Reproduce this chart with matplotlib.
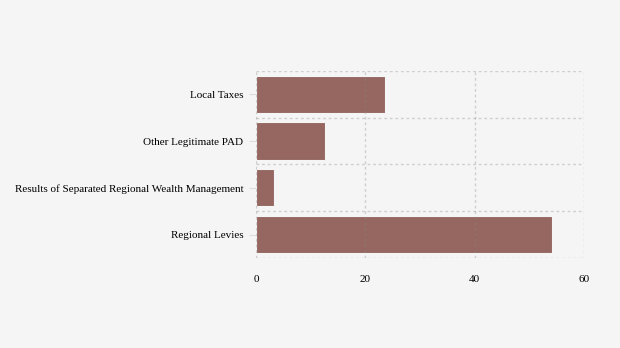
import matplotlib.pyplot as plt
import numpy as np

categories = ['Regional Levies', 'Results of Separated Regional Wealth Management',
              'Other Legitimate PAD', 'Local Taxes']
values = [54.1, 3.3, 12.6, 23.6]
xticks = [0, 20, 40, 60]

plt.rcParams['font.family'] = ['Liberation Serif', 'DejaVu Serif']

bg = '#f5f5f5'
fig = plt.figure(figsize=(6.2, 3.48), dpi=100, facecolor=bg)
ax = fig.add_axes([0.413, 0.259, 0.529, 0.537], facecolor=bg)

y = np.arange(len(categories))
ax.barh(y, values, height=0.8, color='#956760', edgecolor=bg, linewidth=0.8, zorder=1)

ax.set_xlim(0, 60)
ax.set_ylim(-0.5, len(categories) - 0.5)
ax.set_xticks(xticks)
ax.set_xticklabels([str(t) for t in xticks])
ax.set_yticks(y)
ax.set_yticklabels(categories)
ax.set_yticks(np.arange(-0.5, len(categories), 1), minor=True)

# dashed grid on top of the bars
grid_kw = dict(color='#888888', linestyle=(0, (2, 2)), linewidth=1, alpha=0.35, zorder=3)
ax.grid(axis='x', which='major', **grid_kw)
ax.grid(axis='y', which='minor', **grid_kw)
ax.set_axisbelow(False)

for s in ax.spines.values():
    s.set_visible(False)

ax.tick_params(axis='y', which='major', length=5, color='#dddddd', labelsize=8, pad=4)
ax.tick_params(axis='y', which='minor', length=0)
ax.tick_params(axis='x', length=0, labelsize=8, pad=12)

fig.savefig('out.png', dpi=100, facecolor=fig.get_facecolor())
